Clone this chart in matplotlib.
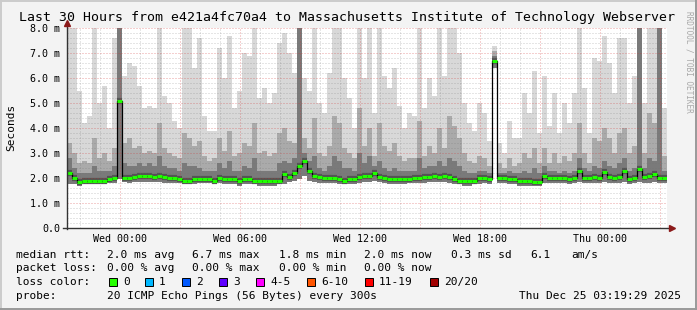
import matplotlib
matplotlib.use('Agg')
import matplotlib.pyplot as plt
from matplotlib.patches import Rectangle
from matplotlib.lines import Line2D
import numpy as np

W, H = 697, 310

# one column every 15 minutes, time in hours relative to Wed 00:00
t_start = -2.65
step_h = 0.25

median_ms = [
    2.2, 2.0, 1.85, 1.9, 1.9, 1.9, 1.9, 1.9, 1.95, 2.0,
    5.1, 2.0, 2.0, 2.05, 2.1, 2.1, 2.1, 2.05, 2.1, 2.05,
    2.0, 2.0, 1.95, 1.9, 1.9, 1.95, 1.95, 1.95, 1.95, 1.9,
    2.0, 1.95, 1.95, 1.95, 1.9, 1.95, 1.95, 1.9, 1.9, 1.9,
    1.9, 1.9, 1.9, 2.15, 2.05, 2.2, 2.5, 2.7, 2.3, 2.1,
    2.05, 2.0, 2.0, 2.0, 1.95, 1.9, 1.95, 1.95, 2.05, 2.1,
    2.1, 2.2, 2.05, 2.0, 1.95, 1.95, 1.95, 1.95, 1.95, 2.0,
    2.0, 2.05, 2.05, 2.1, 2.05, 2.1, 2.05, 1.95, 1.9, 1.9,
    1.9, 1.9, 2.0, 2.0, 1.95, 6.7, 2.0, 2.0, 1.95, 1.95,
    1.9, 1.9, 1.9, 1.85, 1.85, 2.1, 2.0, 2.0, 2.0, 2.0,
    1.95, 2.0, 2.3, 2.0, 2.0, 2.05, 2.0, 2.25, 2.05, 2.0,
    2.05, 2.3, 1.95, 2.0, 2.35, 2.05, 2.1, 2.15, 2.0, 2.0,
]

smoke_max = [
    8.0, 8.0, 5.5, 4.2, 4.5, 8.0, 5.0, 5.7, 4.0, 7.6,
    8.0, 6.1, 6.6, 6.5, 5.7, 4.8, 4.9, 4.8, 8.0, 5.3,
    5.0, 4.3, 4.0, 8.0, 8.0, 6.4, 7.6, 4.5, 3.9, 3.9,
    7.2, 6.0, 7.7, 4.8, 5.5, 7.0, 6.9, 8.0, 5.2, 5.6,
    5.0, 5.4, 7.4, 7.8, 7.0, 6.2, 8.0, 6.0, 5.5, 8.0,
    5.0, 4.6, 6.2, 8.0, 8.0, 6.0, 5.2, 4.0, 8.0, 6.0,
    8.0, 4.6, 8.0, 6.1, 5.6, 6.4, 4.9, 4.0, 4.6, 4.5,
    8.0, 4.8, 6.0, 5.3, 8.0, 6.1, 8.0, 8.0, 7.0, 5.0,
    4.2, 3.9, 5.0, 4.6, 3.5, 7.3, 3.4, 3.0, 4.3, 3.6,
    3.6, 5.4, 4.6, 6.3, 3.8, 6.1, 4.1, 5.4, 3.8, 5.0,
    4.2, 5.4, 8.0, 5.6, 3.8, 6.8, 6.7, 7.7, 6.6, 5.4,
    7.6, 7.6, 5.0, 6.1, 8.0, 5.0, 8.0, 8.0, 8.0, 4.8,
]

smoke_p90 = [
    3.4, 3.0, 2.6, 2.7, 2.6, 3.6, 2.8, 3.0, 2.7, 3.2,
    8.0, 3.4, 3.6, 3.2, 3.3, 3.0, 3.1, 3.0, 4.2, 3.2,
    3.0, 2.9, 2.8, 3.8, 3.6, 3.3, 3.5, 2.9, 2.7, 2.8,
    3.6, 3.1, 3.9, 2.9, 3.0, 3.4, 3.3, 4.2, 3.0, 3.1,
    2.9, 3.0, 3.8, 4.0, 3.5, 3.4, 8.0, 3.6, 3.2, 4.4,
    3.0, 2.9, 3.3, 4.5, 4.2, 3.2, 3.0, 2.8, 4.8, 3.3,
    4.0, 2.9, 4.2, 3.3, 3.1, 3.4, 2.9, 2.7, 2.8, 2.8,
    4.3, 2.9, 3.3, 3.0, 4.0, 3.2, 4.5, 4.1, 3.6, 3.0,
    2.7, 2.6, 2.9, 2.8, 2.5, 7.1, 2.6, 2.4, 2.8, 2.5,
    2.6, 3.0, 2.8, 3.2, 2.6, 3.2, 2.6, 3.0, 2.6, 2.9,
    2.7, 3.0, 4.2, 3.0, 2.6, 3.6, 3.5, 4.0, 3.6, 3.0,
    3.8, 4.0, 3.0, 3.3, 8.0, 3.0, 4.6, 4.2, 8.0, 2.9,
]

smoke_p75 = [
    2.8, 2.4, 2.2, 2.2, 2.2, 2.5, 2.3, 2.3, 2.3, 2.5,
    8.0, 2.6, 2.5, 2.5, 2.6, 2.5, 2.6, 2.5, 2.9, 2.5,
    2.4, 2.4, 2.3, 2.6, 2.5, 2.5, 2.4, 2.3, 2.3, 2.3,
    2.6, 2.4, 2.7, 2.3, 2.3, 2.5, 2.4, 2.8, 2.3, 2.3,
    2.3, 2.3, 2.6, 2.7, 2.6, 2.8, 8.0, 3.0, 2.7, 2.9,
    2.4, 2.3, 2.5, 2.9, 2.7, 2.4, 2.4, 2.3, 3.0, 2.6,
    2.9, 2.5, 2.7, 2.4, 2.3, 2.4, 2.3, 2.3, 2.3, 2.3,
    2.8, 2.4, 2.5, 2.5, 2.7, 2.5, 2.8, 2.7, 2.5, 2.3,
    2.2, 2.2, 2.3, 2.3, 2.2, 6.9, 2.2, 2.2, 2.3, 2.2,
    2.2, 2.3, 2.2, 2.4, 2.2, 2.5, 2.3, 2.3, 2.2, 2.3,
    2.2, 2.3, 2.8, 2.4, 2.3, 2.5, 2.4, 2.7, 2.5, 2.4,
    2.6, 2.8, 2.3, 2.4, 8.0, 2.4, 2.8, 2.7, 8.0, 2.3,
]

smoke_min = [
    1.75, 1.75, 1.7, 1.75, 1.75, 1.75, 1.75, 1.75, 1.8, 1.8,
    1.95, 1.85, 1.8, 1.85, 1.85, 1.85, 1.85, 1.85, 1.85, 1.8,
    1.8, 1.8, 1.8, 1.75, 1.75, 1.75, 1.8, 1.8, 1.8, 1.75,
    1.8, 1.75, 1.75, 1.75, 1.7, 1.75, 1.75, 1.75, 1.7, 1.7,
    1.7, 1.7, 1.75, 1.75, 1.85, 1.9, 1.95, 2.1, 1.9, 1.85,
    1.8, 1.8, 1.8, 1.8, 1.75, 1.75, 1.75, 1.75, 1.8, 1.85,
    1.85, 1.9, 1.85, 1.8, 1.75, 1.75, 1.75, 1.75, 1.8, 1.8,
    1.8, 1.8, 1.85, 1.85, 1.85, 1.85, 1.8, 1.75, 1.75, 1.7,
    1.7, 1.75, 1.75, 1.8, 1.75, 6.4, 1.8, 1.8, 1.75, 1.75,
    1.7, 1.7, 1.7, 1.7, 1.7, 1.8, 1.8, 1.8, 1.8, 1.8,
    1.75, 1.8, 1.85, 1.8, 1.8, 1.8, 1.8, 1.85, 1.8, 1.8,
    1.8, 1.85, 1.75, 1.8, 1.85, 1.8, 1.8, 1.85, 1.8, 1.8,
]

hour_ticks = [0, 6, 12, 18, 24]
hour_labels = ['Wed 00:00', 'Wed 06:00', 'Wed 12:00', 'Wed 18:00', 'Thu 00:00']
ms_ticks = [0, 1, 2, 3, 4, 5, 6, 7, 8]
ms_labels = ['0.0', '1.0 m', '2.0 m', '3.0 m', '4.0 m', '5.0 m', '6.0 m', '7.0 m', '8.0 m']

title = 'Last 30 Hours from e421a4fc70a4 to Massachusetts Institute of Technology Webserver'
rtt_stats = ['2.0 ms avg', '6.7 ms max', '1.8 ms min', '2.0 ms now', '0.3 ms sd', '6.1', 'am/s']
loss_stats = ['0.00 % avg', '0.00 % max', '0.00 % min', '0.00 % now']
loss_labels = ['0', '1', '2', '3', '4-5', '6-10', '11-19', '20/20']
loss_colors = ['#26ff00', '#00b8ff', '#0059ff', '#5e00ff', '#ff00ff', '#ff5500', '#ff0000', '#a10000']
probe_text = '20 ICMP Echo Pings (56 Bytes) every 300s'
stamp = 'Thu Dec 25 03:19:29 2025'

plt.rcParams['font.family'] = 'DejaVu Sans Mono'


def fx(px):
    return px / W


def fy(py):
    return 1 - py / H


fig = plt.figure(figsize=(W / 100, H / 100), dpi=100, facecolor='#f3f3f3')
ax = fig.add_axes([fx(67), fy(228), 600 / W, 200 / H])
ax.set_facecolor('white')
for s in ax.spines.values():
    s.set_visible(False)

n = len(median_ms)
edges = t_start + step_h * np.arange(n + 1)
starts = edges[:-1]


def ext(v):
    return np.append(v, v[-1])


lo = ext(smoke_min)
ax.fill_between(edges, lo, ext(smoke_max), step='post', color='#d8d8d8', lw=0, zorder=1)
ax.fill_between(edges, lo, ext(smoke_p90), step='post', color='#aaaaaa', lw=0, zorder=2)
ax.fill_between(edges, lo, ext(smoke_p75), step='post', color='#7a7a7a', lw=0, zorder=3)
ax.hlines(median_ms, starts, starts + step_h, colors='#444444', lw=4.5, alpha=0.7, zorder=4)

# grid drawn over the smoke, semi transparent like rrdtool
dots = (0, (1, 2))
for h in np.arange(-2, 28, 1):
    if h % 3 == 0:
        ax.axvline(h, color='#d03030', alpha=0.45, lw=0.72, ls=dots, zorder=5)
    else:
        ax.axvline(h, color='#707070', alpha=0.35, lw=0.72, ls=dots, zorder=5)
for v in np.arange(0.2, 8.01, 0.2):
    if abs(v - round(v)) < 1e-6:
        ax.axhline(v, color='#d03030', alpha=0.45, lw=0.72, ls=dots, zorder=5)
    else:
        ax.axhline(v, color='#707070', alpha=0.35, lw=0.72, ls=dots, zorder=5)

ax.step(edges, ext(median_ms), where='post', color='black', lw=0.9, zorder=6)
ax.hlines(median_ms, starts, starts + step_h, colors='#20ff00', lw=2.2, zorder=7)

ax.set_xlim(t_start, t_start + 30)
ax.set_ylim(0, 8)

# axes and arrows
ax.plot([t_start - 0.22, t_start + 30.2], [0, 0], color='#333333', lw=1, clip_on=False, zorder=8)
ax.plot([t_start, t_start], [-0.05, 8.15], color='#333333', lw=1, clip_on=False, zorder=8)
ax.plot([t_start], [8.2], marker='^', ms=4.5, color='#8b1a1a', clip_on=False, zorder=9)
ax.plot([t_start + 30.25], [0], marker='>', ms=4.5, color='#8b1a1a', clip_on=False, zorder=9)

ax.set_xticks(hour_ticks)
ax.set_xticklabels(hour_labels)
ax.set_yticks(ms_ticks)
ax.set_yticklabels(ms_labels)
ax.tick_params(axis='x', length=0, pad=4, labelsize=7.2)
ax.tick_params(axis='y', length=0, pad=5, labelsize=7.2)

fig.text(fx(347), fy(18), title, fontsize=9.55, ha='center', va='center')
fig.text(fx(11), fy(127), 'Seconds', fontsize=8, rotation=90, ha='center', va='center')
fig.text(fx(689), fy(62), 'RRDTOOL / TOBI OETIKER', fontsize=5.6, rotation=270,
         ha='center', va='center', color='#a8a8a8')

# legend rows
lg = 8
row_y = [255, 268, 282, 296]
fig.text(fx(16), fy(row_y[0]), 'median rtt:', fontsize=lg, va='center')
for x, s in zip([107, 192, 279, 364, 451, 530, 571], rtt_stats):
    fig.text(fx(x), fy(row_y[0]), s, fontsize=lg, va='center')

fig.text(fx(16), fy(row_y[1]), 'packet loss:', fontsize=lg, va='center')
for x, s in zip([107, 192, 279, 364], loss_stats):
    fig.text(fx(x), fy(row_y[1]), s, fontsize=lg, va='center')

fig.text(fx(16), fy(row_y[2]), 'loss color:', fontsize=lg, va='center')
box_x = [109, 145, 182, 219, 256, 307, 365, 430]
for x, lab, c in zip(box_x, loss_labels, loss_colors):
    fig.add_artist(Rectangle((fx(x), fy(row_y[2] + 4)), 8 / W, 8 / H,
                             transform=fig.transFigure, facecolor=c,
                             edgecolor='black', lw=0.7))
    fig.text(fx(x + 14), fy(row_y[2]), lab, fontsize=lg, va='center')

fig.text(fx(16), fy(row_y[3]), 'probe:', fontsize=lg, va='center')
fig.text(fx(107), fy(row_y[3]), probe_text, fontsize=lg, va='center')
fig.text(fx(681), fy(row_y[3]), stamp, fontsize=lg, va='center', ha='right')

# image border
fig.add_artist(Line2D([0, 1], [fy(0.5), fy(0.5)], transform=fig.transFigure, color='#cbcbcb', lw=1.4))
fig.add_artist(Line2D([fx(0.5), fx(0.5)], [0, 1], transform=fig.transFigure, color='#cbcbcb', lw=1.4))
fig.add_artist(Line2D([0, 1], [fy(309), fy(309)], transform=fig.transFigure, color='#999999', lw=1.4))
fig.add_artist(Line2D([fx(696), fx(696)], [0, 1], transform=fig.transFigure, color='#999999', lw=1.4))

fig.savefig('out.png', dpi=100, facecolor=fig.get_facecolor())
